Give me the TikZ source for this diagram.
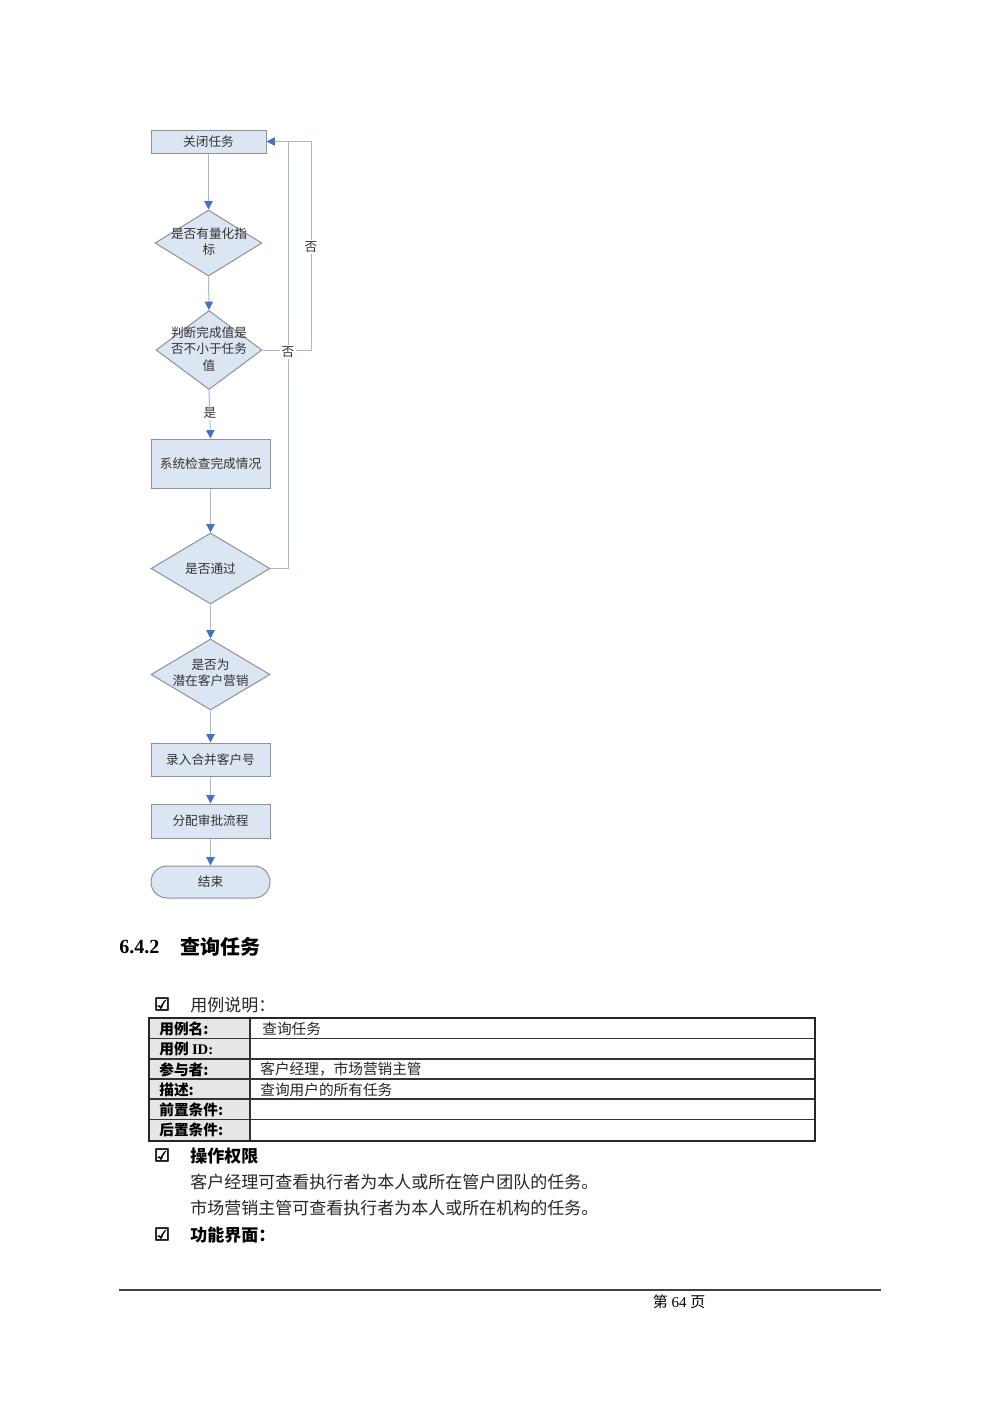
\documentclass[tikz,border=0pt]{standalone}
\usepackage{fontspec}
\setmainfont{Liberation Serif}
\newfontfamily\cjk{Noto Sans CJK SC}
\newfontfamily\dvs{DejaVu Sans}[FakeBold=3]
\usetikzlibrary{shapes.geometric,arrows.meta}
\definecolor{boxfill}{RGB}{220,229,242}
\definecolor{boxline}{RGB}{140,145,155}
\definecolor{connc}{RGB}{165,185,215}
\definecolor{tipc}{RGB}{68,114,196}
\definecolor{cellgray}{RGB}{230,230,230}
\begin{document}
\begin{tikzpicture}[x=0.6pt,y=-0.6pt,
 pbox/.style={draw=boxline, fill=boxfill, rectangle, inner sep=0pt, line width=0.6pt},
 dia/.style={draw=boxline, fill=boxfill, diamond, inner sep=0pt, line width=0.6pt},
 ftxt/.style={font=\cjk\fontsize{7.6}{9.8}\selectfont, text=black!80, align=center, inner sep=0pt},
 conn/.style={draw=connc, line width=0.6pt},
 arr/.style={conn, -{Triangle[length=5pt,width=5pt,color=tipc]}},
 lbl/.style={fill=white, font=\cjk\fontsize{7.6}{9}\selectfont, text=black!80, inner sep=1pt},
 tlab/.style={anchor=west, font=\cjk\bfseries\fontsize{8.8}{10}\selectfont, inner sep=0pt},
 tval/.style={anchor=west, font=\cjk\fontsize{8.8}{10}\selectfont, text=black!85, inner sep=0pt},
 chk/.style={font=\dvs\bfseries\fontsize{10.5}{12}\selectfont, inner sep=0pt},
 body/.style={anchor=west, font=\cjk\fontsize{10.2}{12}\selectfont, text=black!85, inner sep=0pt},
 bodyb/.style={anchor=west, font=\cjk\bfseries\fontsize{10.2}{12}\selectfont, inner sep=0pt},
]
\useasboundingbox (0,0) rectangle (1000,1415);
\fill[white] (0,0) rectangle (1000,1415);

% flowchart nodes
\node[pbox, minimum width=69pt, minimum height=13.8pt] (b1) at (208.5,141.5) {};
\node[ftxt] at (b1) {关闭任务};
\node[dia, minimum width=64.2pt, minimum height=39.6pt] (d1) at (208.5,243) {};
\node[ftxt] at (209,242) {是否有量化指\\标};
\node[dia, minimum width=63.6pt, minimum height=47.4pt] (d2) at (209,350) {};
\node[ftxt] at (209,349) {判断完成值是\\否不小于任务\\值};
\node[pbox, minimum width=71.4pt, minimum height=29.4pt] (b2) at (210.5,463.5) {};
\node[ftxt] at (b2) {系统检查完成情况};
\node[dia, minimum width=71.4pt, minimum height=42.6pt] (d3) at (210.5,568.5) {};
\node[ftxt] at (d3) {是否通过};
\node[dia, minimum width=71.4pt, minimum height=42.6pt] (d4) at (210.5,674.5) {};
\node[ftxt] at (210.5,673) {是否为\\潜在客户营销};
\node[pbox, minimum width=71.4pt, minimum height=19.8pt] (b3) at (210.5,759.5) {};
\node[ftxt] at (b3) {录入合并客户号};
\node[pbox, minimum width=71.4pt, minimum height=20.4pt] (b4) at (210.5,821) {};
\node[ftxt] at (b4) {分配审批流程};
\node[pbox, minimum width=71.4pt, minimum height=19.2pt, rounded corners=9.6pt] (e) at (210.5,882) {};
\node[ftxt] at (e) {结束};

% connectors
\draw[arr] (b1.south) -- (d1.north);
\draw[arr] (d1.south) -- (d2.north);
\draw[arr] (d2.south) -- (b2.north);
\draw[arr] (b2.south) -- (d3.north);
\draw[arr] (d3.south) -- (d4.north);
\draw[arr] (d4.south) -- (b3.north);
\draw[arr] (b3.south) -- (b4.north);
\draw[arr] (b4.south) -- (e.north);
\draw[conn] (d3.east) -- (288,568.5) -- (288,141.5);
\draw[arr] (d2.east) -- (311,350) -- (311,141.5) -- (b1.east);
\node[lbl] at (210,413) {是};
\node[lbl] at (311,247) {否};
\node[lbl] at (288,352) {否};

% section heading
\node[anchor=west, font=\bfseries\fontsize{12}{14}\selectfont, inner sep=0pt] (h1) at (119,947) {6.4.2};
\node[anchor=west, font=\cjk\bfseries\fontsize{12}{14}\selectfont, inner sep=0pt] (h2) at (180,947) {查询任务};

\node[chk] (c1) at (162,1004) {☑};
\node[body] (t1) at (190,1005) {用例说明：};

% table
\fill[cellgray] (149,1018) rectangle (250,1141);
\foreach \yy in {1038.5,1059,1079,1099,1119.5}{
  \draw[line width=1.1pt, black!80] (149,\yy) -- (815,\yy);
}
\draw[line width=0.8pt, black!80] (250,1018) -- (250,1141);
\draw[line width=1.4pt, black!85] (149,1018) rectangle (815,1141);
\node[tlab] at (159,1028.5) {用例名:};
\node[tlab] at (159,1049) {用例 \textrm{\bfseries ID:}};
\node[tlab] at (159,1069.5) {参与者:};
\node[tlab] at (159,1089.5) {描述:};
\node[tlab] at (159,1109.5) {前置条件:};
\node[tlab] at (159,1130) {后置条件:};
\node[tval] at (262,1028.5) {查询任务};
\node[tval] at (260,1069.5) {客户经理，市场营销主管};
\node[tval] at (260,1089.5) {查询用户的所有任务};

\node[chk] (c2) at (162,1155) {☑};
\node[bodyb] (t2) at (190,1156) {操作权限};
\node[body] (t3) at (190,1182) {客户经理可查看执行者为本人或所在管户团队的任务。};
\node[body] (t4) at (190,1208) {市场营销主管可查看执行者为本人或所在机构的任务。};
\node[chk] (c3) at (162,1234) {☑};
\node[bodyb] (t5) at (190,1235) {功能界面：};

% footer
\draw[line width=1.2pt, black!75] (119,1290) -- (881,1290);
\node[font=\fontsize{9}{10}\selectfont, inner sep=0pt] (pg) at (679,1302) {{\cjk 第}\ 64\ {\cjk 页}};
\end{tikzpicture}
\end{document}
